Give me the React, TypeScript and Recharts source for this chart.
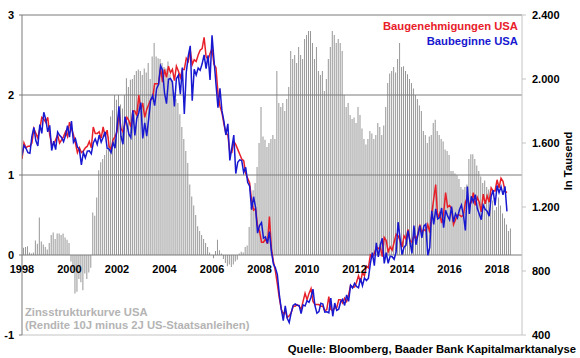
import React from "react";
import { ComposedChart, Bar, Line, XAxis, YAxis, ReferenceLine } from "recharts";

// monthly data, Jan 1998 onwards
const startYear = 1998;
const yearTicks = [1998, 2000, 2002, 2004, 2006, 2008, 2010, 2012, 2014, 2016, 2018];
const leftTicks = [-1, 0, 1, 2, 3];
const rightTicks = [400, 800, 1200, 1600, 2000, 2400];

// Zinsstrukturkurve (10J minus 2J), Prozentpunkte
const yieldSpread = [
  0.19, 0.09, 0.1, 0.11, 0.03, 0.02, 0.03, 0.18, 0.14, 0.47, 0.17, 0.13,
  0.1, 0.07, 0.15, 0.25, 0.28, 0.2, 0.27, 0.27, 0.25, 0.27, 0.22, 0.19,
  0.15, -0.08, -0.2, -0.48, -0.46, -0.3, -0.34, -0.44, -0.23, -0.3, -0.22, -0.16,
  0.53, 0.49, 0.72, 1.06, 1.16, 1.2, 1.25, 1.32, 1.48, 1.73, 1.81, 2.0,
  1.94, 2.0, 1.88, 1.83, 2.0, 2.21, 2.1, 2.19, 2.2, 2.25, 2.3, 2.32,
  2.3, 2.25, 2.33, 2.28, 2.4, 2.2, 2.48, 2.65, 2.48, 2.46, 2.45, 2.4,
  2.35, 2.33, 2.42, 2.26, 2.18, 2.03, 1.95, 1.9, 1.76, 1.6, 1.45, 1.3,
  1.15, 0.88, 0.73, 0.62, 0.5, 0.36, 0.3, 0.25, 0.2, 0.15, 0.1, 0.03,
  0.0, -0.04, 0.05, 0.19, 0.06, 0.02, -0.05, -0.1, -0.14, -0.12, -0.15, -0.12,
  -0.08, -0.06, 0.02, 0.04, 0.03, 0.1, 0.12, 0.35, 0.6, 0.81, 0.9, 1.1,
  1.4, 1.85, 1.48, 1.44, 1.35, 1.4, 1.45, 1.5, 1.45, 2.3, 1.9, 1.85,
  1.9, 1.8, 1.95, 2.1, 2.55, 2.45, 2.5, 2.4, 2.6, 2.5, 2.45, 2.7,
  2.75, 2.8, 2.8, 2.65, 2.45, 2.6, 2.3, 2.25, 2.3, 2.05, 2.2, 2.45,
  2.6, 2.8, 2.75, 2.65, 2.7, 2.65, 2.55, 2.0, 1.85, 1.9, 1.75, 1.7,
  1.72, 1.65, 1.85, 1.75, 1.58, 1.45, 1.38, 1.45, 1.55, 1.52, 1.45, 1.5,
  1.65, 1.6, 1.5, 1.62, 1.85, 2.15, 2.27, 2.3, 2.35, 2.28, 2.45, 2.65,
  2.35, 2.36, 2.3, 2.26, 2.2, 2.15, 2.08, 2.0, 1.95, 1.87, 1.8, 1.55,
  1.5, 1.4, 1.48, 1.5, 1.65, 1.69, 1.55, 1.5, 1.45, 1.42, 1.32, 1.3,
  1.25, 1.05, 1.05, 1.02, 1.0, 0.95, 0.85, 0.82, 0.85, 0.88, 1.2, 1.26,
  1.26, 1.2, 1.12, 1.05, 0.98, 0.9, 0.93, 0.85, 0.82, 0.8, 0.68, 0.56,
  0.6, 0.72, 0.62, 0.52, 0.46, 0.38, 0.3, 0.33,
];

// Baugenehmigungen USA, in Tausend
const permits = [
  1500, 1600, 1570, 1580, 1580, 1600, 1690, 1660, 1630, 1690, 1760, 1750,
  1730, 1760, 1650, 1590, 1590, 1620, 1650, 1600, 1620, 1640, 1670, 1640,
  1730, 1690, 1650, 1600, 1540, 1570, 1540, 1550, 1570, 1580, 1610, 1570,
  1700, 1660, 1660, 1670, 1630, 1700, 1640, 1680, 1580, 1560, 1620, 1640,
  1670, 1790, 1690, 1670, 1720, 1760, 1740, 1700, 1800, 1800, 1770, 1900,
  1810, 1850, 1760, 1810, 1840, 1870, 1880, 1970, 1970, 1970, 2070, 1980,
  2060, 2010, 2080, 2040, 2060, 1990, 2080, 2050, 2010, 2060, 2060, 2130,
  2110, 2180, 2090, 2120, 2110, 2150, 2180, 2190, 2260, 2140, 2120, 2160,
  2190, 2090, 2070, 1910, 1830, 1790, 1720, 1660, 1650, 1540, 1540, 1610,
  1590, 1560, 1530, 1500, 1490, 1410, 1380, 1350, 1240, 1180, 1190, 1080,
  1050, 980, 980, 1000, 970, 1140, 940, 860, 800, 720, 630, 560,
  530, 550, 510, 520, 540, 580, 580, 590, 580, 560, 610, 660,
  620, 660, 690, 610, 590, 590, 590, 580, 580, 550, 560, 640,
  560, 550, 570, 570, 620, 620, 600, 630, 610, 650, 710, 700,
  700, 730, 770, 730, 790, 770, 830, 820, 900, 890, 910, 950,
  940, 950, 890, 1010, 990, 920, 950, 930, 980, 1030, 1020, 990,
  950, 1020, 1000, 1060, 990, 980, 1020, 1000, 1030, 1090, 1040, 1060,
  1050, 1090, 1040, 1160, 1250, 1340, 1130, 1160, 1100, 1160, 1290, 1200,
  1210, 1190, 1090, 1120, 1150, 1150, 1140, 1150, 1230, 1260, 1210, 1230,
  1290, 1210, 1260, 1230, 1170, 1280, 1220, 1270, 1230, 1320, 1300, 1300,
  1370, 1320, 1380, 1360, 1300, 1290,
];

// Baubeginne USA, in Tausend
const starts = [
  1525, 1584, 1567, 1540, 1536, 1641, 1698, 1614, 1582, 1715, 1660, 1792,
  1748, 1670, 1710, 1553, 1611, 1559, 1669, 1648, 1635, 1608, 1648, 1708,
  1636, 1737, 1604, 1626, 1575, 1559, 1463, 1541, 1507, 1549, 1551, 1532,
  1600, 1625, 1590, 1649, 1605, 1636, 1670, 1567, 1562, 1540, 1602, 1568,
  1698, 1829, 1642, 1592, 1764, 1717, 1655, 1633, 1804, 1648, 1753, 1788,
  1853, 1629, 1726, 1643, 1751, 1867, 1897, 1833, 1939, 1967, 2083, 2057,
  1911, 1846, 1998, 2003, 1981, 1828, 2002, 2024, 1905, 2072, 1782, 2042,
  2144, 2207, 1864, 2061, 2025, 2068, 2054, 2095, 2151, 2065, 2147, 1994,
  2273, 2119, 1969, 1821, 1942, 1802, 1737, 1650, 1720, 1491, 1570, 1649,
  1409, 1480, 1495, 1490, 1415, 1448, 1354, 1330, 1183, 1264, 1197, 1037,
  1084, 1103, 1005, 1013, 973, 1046, 923, 844, 820, 777, 652, 560,
  490, 582, 505, 478, 540, 585, 594, 586, 585, 534, 588, 581,
  614, 604, 636, 687, 583, 536, 546, 599, 594, 543, 545, 539,
  630, 517, 600, 554, 561, 608, 623, 585, 650, 610, 711, 694,
  723, 704, 695, 753, 708, 757, 740, 754, 847, 915, 833, 976,
  888, 962, 1005, 847, 915, 848, 893, 889, 873, 918, 1105, 1003,
  902, 948, 962, 1052, 984, 910, 1084, 964, 1025, 1084, 1007, 1080,
  1092, 898, 948, 1176, 1092, 1188, 1125, 1134, 1194, 1071, 1179, 1144,
  1120, 1202, 1106, 1158, 1132, 1183, 1212, 1150, 1053, 1328, 1156, 1267,
  1231, 1277, 1192, 1156, 1121, 1212, 1185, 1174, 1142, 1265, 1305, 1210,
  1334, 1290, 1327, 1276, 1329, 1173,
];

const data = yieldSpread.map((spread, i) => ({
  t: startYear + i / 12,
  spread,
  permits: permits[i],
  starts: starts[i],
}));

const FONT = "'Liberation Sans', Arial, sans-serif";
const RED = "#e8202a";
const BLUE = "#1818d0";
const GRID = "#7a7a7a";
const LIGHT = "#c4c4c4";

const fmtThousands = (v: number) => v.toLocaleString("de-DE");

function XTick(props: any) {
  const { x, y, payload } = props;
  // year labels sit just under the zero line, not at the bottom of the plot
  return (
    <text x={x} y={y - 62} textAnchor="middle" fontFamily={FONT} fontSize={11} fontWeight="bold" fill="#000">
      {payload.value}
    </text>
  );
}

export default function App() {
  return (
    <div style={{ position: "absolute", left: 0, top: 0, width: 580, height: 358, background: "#fff" }}>
      <ComposedChart
        width={580}
        height={358}
        data={data}
        margin={{ top: 15, right: 0, bottom: 0, left: 0 }}
      >
        <XAxis
          dataKey="t"
          type="number"
          domain={[1998, 2019.05]}
          ticks={yearTicks}
          height={23}
          axisLine={false}
          tickLine={false}
          tickSize={0}
          tickMargin={0}
          tick={<XTick />}
          allowDataOverflow
        />
        <YAxis
          yAxisId="left"
          domain={[-1, 3]}
          ticks={leftTicks}
          width={22}
          axisLine={{ stroke: GRID }}
          tickLine={{ stroke: GRID }}
          tickSize={3}
          tickMargin={5}
          tick={{ fontFamily: FONT, fontSize: 11, fontWeight: "bold", fill: "#000" }}
        />
        <YAxis
          yAxisId="right"
          orientation="right"
          domain={[400, 2400]}
          ticks={rightTicks}
          width={58}
          axisLine={{ stroke: LIGHT }}
          tickLine={{ stroke: LIGHT }}
          tickSize={4}
          tickMargin={6}
          tickFormatter={fmtThousands}
          tick={{ fontFamily: FONT, fontSize: 11, fontWeight: "bold", fill: "#000", textAnchor: "start" }}
        />
        <ReferenceLine yAxisId="left" y={-1} stroke={LIGHT} />
        <ReferenceLine yAxisId="left" y={0} stroke={GRID} />
        <ReferenceLine yAxisId="left" y={1} stroke={GRID} />
        <ReferenceLine yAxisId="left" y={2} stroke={GRID} />
        <ReferenceLine yAxisId="left" y={3} stroke={GRID} />
        <Bar yAxisId="left" dataKey="spread" fill="#969696" barSize={1} isAnimationActive={false} />
        <Line
          yAxisId="right"
          dataKey="permits"
          stroke={RED}
          strokeWidth={1.5}
          dot={false}
          activeDot={false}
          isAnimationActive={false}
        />
        <Line
          yAxisId="right"
          dataKey="starts"
          stroke={BLUE}
          strokeWidth={1.5}
          dot={false}
          activeDot={false}
          isAnimationActive={false}
        />
        <text x={518} y={30} textAnchor="end" fontFamily={FONT} fontSize={11.25} fontWeight="bold" fill={RED}>
          Baugenehmigungen USA
        </text>
        <text x={518} y={45} textAnchor="end" fontFamily={FONT} fontSize={11.25} fontWeight="bold" fill={BLUE}>
          Baubeginne USA
        </text>
        <text x={25} y={316} fontFamily={FONT} fontSize={11.25} fontWeight="bold" fill="#b4b4b4">
          Zinsstrukturkurve USA
        </text>
        <text x={25} y={329} fontFamily={FONT} fontSize={11.25} fontWeight="bold" fill="#b4b4b4">
          (Rendite 10J minus 2J US-Staatsanleihen)
        </text>
        <text
          x={572}
          y={161}
          transform="rotate(-90 572 161)"
          textAnchor="middle"
          fontFamily={FONT}
          fontSize={11.25}
          fontWeight="bold"
          fill="#000"
        >
          In Tausend
        </text>
        <text x={576} y={353} textAnchor="end" fontFamily={FONT} fontSize={11.25} fontWeight="bold" fill="#000">
          Quelle: Bloomberg, Baader Bank Kapitalmarktanalyse
        </text>
      </ComposedChart>
    </div>
  );
}
